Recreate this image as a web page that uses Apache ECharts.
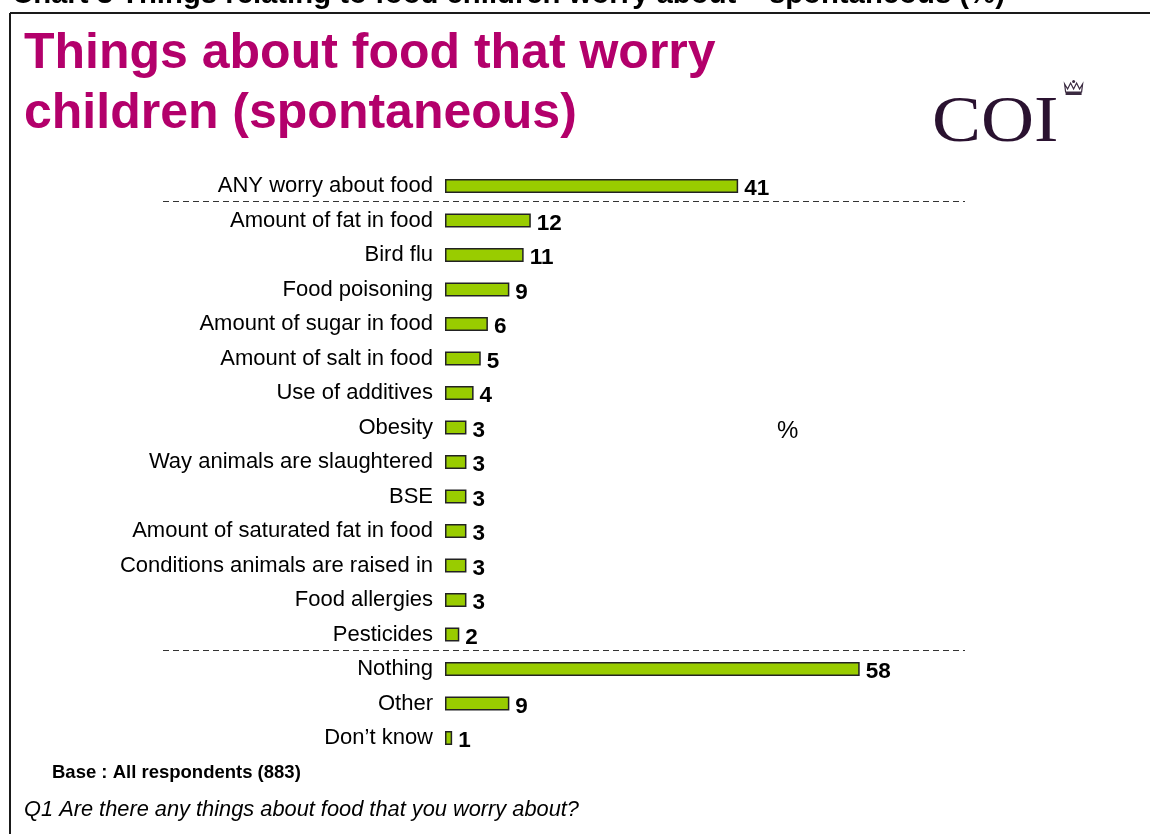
<!DOCTYPE html>
<html>
<head>
<meta charset="utf-8">
<script src="https://cdn.jsdelivr.net/npm/echarts@6/dist/echarts.min.js"></script>
<style>
  html, body { margin: 0; padding: 0; background: #fff; }
  #chart { width: 1150px; height: 834px; }
</style>
</head>
<body>
<div id="chart"></div>
<script>
// Worries about food, spontaneous mentions (%)
const categories = [
  'ANY worry about food',
  'Amount of fat in food',
  'Bird flu',
  'Food poisoning',
  'Amount of sugar in food',
  'Amount of salt in food',
  'Use of additives',
  'Obesity',
  'Way animals are slaughtered',
  'BSE',
  'Amount of saturated fat in food',
  'Conditions animals are raised in',
  'Food allergies',
  'Pesticides',
  'Nothing',
  'Other',
  'Don\u2019t know'
];
const values = [41, 12, 11, 9, 6, 5, 4, 3, 3, 3, 3, 3, 3, 2, 58, 9, 1];
// group separators sit after these category indexes
const separatorsAfter = [0, 13];

const chart = echarts.init(document.getElementById('chart'), null, { renderer: 'canvas' });

const SANS = '"Liberation Sans", Arial, sans-serif';

const baseGraphic = [
  // page frame
  { type: 'line', shape: { x1: 10, y1: 13, x2: 1150, y2: 13 }, style: { stroke: '#1a1a1a', lineWidth: 2 } },
  { type: 'line', shape: { x1: 10, y1: 13, x2: 10, y2: 834 }, style: { stroke: '#1a1a1a', lineWidth: 2 } },
  // running header (partly above the page)
  { type: 'text', left: 12, top: -20, style: {
      text: 'Chart 3 Things relating to food children worry about \u2013 spontaneous (%)',
      font: 'bold 29.3px "Liberation Sans Narrow", "Liberation Sans", Arial, sans-serif', fill: '#000' } },
  // headline
  { type: 'text', left: 24, top: 24, style: {
      text: 'Things about food that worry\nchildren (spontaneous)', lineHeight: 60,
      font: 'bold 50px ' + SANS, fill: '#B3006B' } },
  // COI mark
  { type: 'text', x: 932, y: 91, scaleX: 1.13, style: {
      text: 'COI', font: '65px "Liberation Serif", "DejaVu Serif", serif', fill: '#2a1230' } },
  { type: 'group', left: 1064, top: 80, children: [
      { type: 'polygon', shape: { points: [[0,4],[3,9],[6,3],[9,9],[12,3],[15,9],[18,4],[17,12],[1,12]] },
        style: { fill: '#fff', stroke: '#3a2a40', lineWidth: 1.2 } },
      { type: 'rect', shape: { x: 1, y: 12, width: 16, height: 3 }, style: { fill: '#3a2a40' } },
      { type: 'circle', shape: { cx: 9, cy: 1.5, r: 1.5 }, style: { fill: '#3a2a40' } }
  ] },
  // unit marker
  { type: 'text', left: 777, top: 419, style: { text: '%', font: '24px ' + SANS, fill: '#000' } },
  // footnotes
  { type: 'text', left: 52, top: 763, style: { text: 'Base : All respondents (883)',
      font: 'bold 18.5px ' + SANS, fill: '#000' } },
  { type: 'text', left: 24, top: 799, style: { text: 'Q1 Are there any things about food that you worry about?',
      font: 'italic 21.8px ' + SANS, fill: '#000' } }
];

chart.setOption({
  animation: false,
  grid: { left: 445, right: 133, top: 168.75, bottom: 78.75, containLabel: false },
  xAxis: {
    type: 'value', min: 0, max: 80,
    show: false
  },
  yAxis: {
    type: 'category', data: categories, inverse: true,
    axisLine: { show: false }, axisTick: { show: false }, splitLine: { show: false },
    axisLabel: {
      margin: 12, color: '#000', fontSize: 22,
      fontFamily: SANS
    }
  },
  series: [{
    type: 'bar', data: values, barWidth: 14,
    itemStyle: { color: '#99CC00', borderColor: '#222', borderWidth: 1.5 },
    label: {
      show: true, position: 'right', distance: 6, offset: [0, 3],
      color: '#000', fontSize: 22.5, fontWeight: 'bold',
      fontFamily: SANS
    }
  }],
  graphic: baseGraphic
});

// dashed separators between category groups
const sepLines = separatorsAfter.map(function (i) {
  const a = chart.convertToPixel({ yAxisIndex: 0 }, categories[i]);
  const b = chart.convertToPixel({ yAxisIndex: 0 }, categories[i + 1]);
  const y = Math.round((a + b) / 2) - 1.5;
  return { type: 'line', shape: { x1: 163, y1: y, x2: 965, y2: y },
    style: { stroke: '#333', lineWidth: 1, lineDash: [6, 4] } };
});
chart.setOption({ graphic: baseGraphic.concat(sepLines) }, { replaceMerge: ['graphic'] });
</script>
</body>
</html>
